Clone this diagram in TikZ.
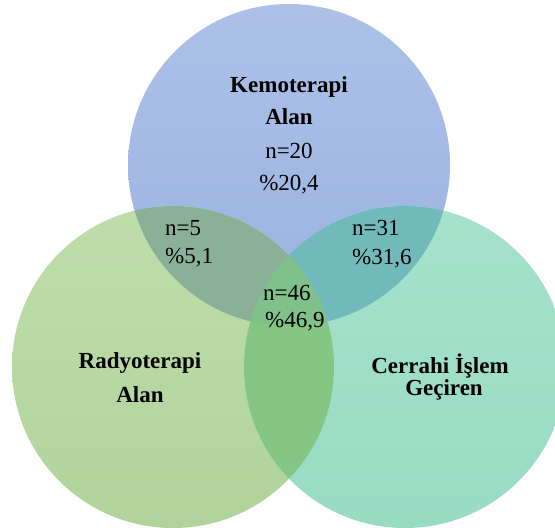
\documentclass[tikz,border=0pt]{standalone}
\usepackage{fontspec}
\setmainfont{Liberation Serif}
\definecolor{kemoTop}{HTML}{ADC1E7}
\definecolor{kemoBot}{HTML}{9AB2E1}
\definecolor{radTop}{HTML}{BEDDAA}
\definecolor{radBot}{HTML}{B0D39C}
\definecolor{cerTop}{HTML}{A6E1CC}
\definecolor{cerBot}{HTML}{98DBC3}
\definecolor{kemoRad}{HTML}{8AB197}
\definecolor{kemoCer}{HTML}{72B9BB}
\definecolor{radCer}{HTML}{86C684}
\definecolor{allThree}{HTML}{80C08A}
\tikzset{
  lbl/.style={font=\fontsize{23}{28}\selectfont\bfseries, anchor=base, inner sep=0pt},
  num/.style={font=\fontsize{23}{28}\selectfont, anchor=base west, inner sep=0pt},
  numc/.style={font=\fontsize{23}{28}\selectfont, anchor=base, inner sep=0pt}
}
\begin{document}
\begin{tikzpicture}[x=1pt,y=-1pt]
\useasboundingbox (0,0) rectangle (555,528);
\coordinate (T) at (289,165);
\coordinate (L) at (173,367);
\coordinate (R) at (405,367);
\def\rr{161pt}
% base circles
\shade[top color=kemoTop, bottom color=kemoBot] (T) circle (\rr);
\shade[top color=radTop, bottom color=radBot] (L) circle (\rr);
\shade[top color=cerTop, bottom color=cerBot] (R) circle (\rr);
% pairwise overlaps
\begin{scope}
  \clip (T) circle (\rr);
  \fill[kemoRad] (L) circle (\rr);
  \fill[kemoCer] (R) circle (\rr);
\end{scope}
\begin{scope}
  \clip (L) circle (\rr);
  \fill[radCer] (R) circle (\rr);
\end{scope}
\begin{scope}
  \clip (T) circle (\rr);
  \clip (L) circle (\rr);
  \fill[allThree] (R) circle (\rr);
\end{scope}
% labels
\node[lbl] (k1) at (289,92) {Kemoterapi};
\node[lbl] (k2) at (289,124) {Alan};
\node[numc] (k3) at (289,158) {n=20};
\node[numc] (k4) at (289,190) {\%20,4};
\node[num] (a1) at (165,235) {n=5};
\node[num] (a2) at (165,263) {\%5,1};
\node[num] (b1) at (352,235) {n=31};
\node[num] (b2) at (352,264) {\%31,6};
\node[num] (c1) at (263,300) {n=46};
\node[num] (c2) at (265,327) {\%46,9};
\node[lbl] (r1) at (140,368) {Radyoterapi};
\node[lbl] (r2) at (140,402) {Alan};
\node[lbl] (s1) at (440,373) {Cerrahi İşlem};
\node[lbl] (s2) at (444,395) {Geçiren};
\end{tikzpicture}
\end{document}
